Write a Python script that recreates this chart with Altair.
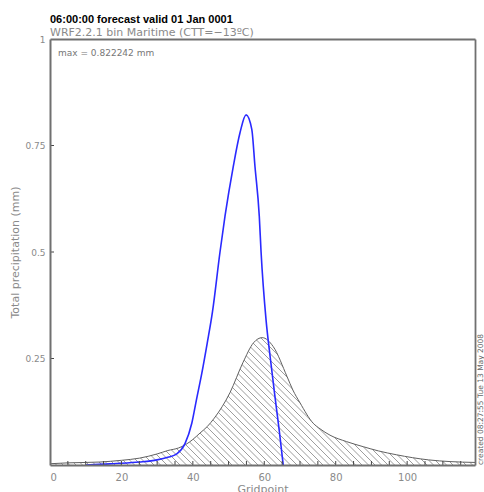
import altair as alt
import pandas as pd
import numpy as np

# ---------------- text ----------------
title_text = "06:00:00 forecast valid 01 Jan 0001"
subtitle_text = "WRF2.2.1 bin Maritime (CTT=\u221213\u00baC)"
max_text = "max = 0.822242 mm"
created_text = "created 08:27:55 Tue 13 May 2008"
x_title = "Gridpoint"
y_title = "Total precipitation (mm)"

# ---------------- data ----------------
# blue line: WRF2.2.1 bin scheme
bin_x = [10, 15, 20, 25, 30, 33, 35.5, 37.8, 39.7, 41, 42.5, 44, 45.5, 47.6, 49, 51.3, 53.2,
         54.9, 56.5, 57.4, 58.6, 59.1, 60.5, 61.7, 63, 64.2, 65.3]
bin_y = [0.0, 0.002, 0.004, 0.007, 0.012, 0.018, 0.026, 0.05, 0.098, 0.153, 0.215, 0.285, 0.36,
         0.5, 0.584, 0.70, 0.78, 0.822, 0.788, 0.70, 0.584, 0.5, 0.34, 0.25, 0.16, 0.08, 0.0]

# grey hatched curve
ref_x = [0, 5, 10, 14, 20, 25, 30, 33, 36, 38, 40, 42, 44, 46, 50.4, 54, 57, 59.4, 62.5, 66.4,
         68, 70, 73.7, 75.6, 78.4, 83, 87.7, 92, 97, 106, 112, 119]
ref_y = [0.003, 0.005, 0.006, 0.007, 0.011, 0.016, 0.026, 0.034, 0.04, 0.048, 0.06, 0.075, 0.09,
         0.11, 0.17, 0.24, 0.287, 0.299, 0.278, 0.207, 0.176, 0.146, 0.098, 0.085, 0.07, 0.055,
         0.043, 0.033, 0.024, 0.012, 0.008, 0.006]

x_tick_labels = [0, 20, 40, 60, 80, 100]
x_minor_ticks = list(range(5, 120, 5))
y_tick_labels = [0.25, 0.5, 0.75, 1]

X_DOMAIN = [0, 119]
Y_DOMAIN = [0, 1]
W, H = 425, 426

FONT = "DejaVu Sans"
GREY_TXT = "#8a8a8a"
FRAME = "#707070"

xs = alt.Scale(domain=X_DOMAIN, nice=False, zero=False)
ys = alt.Scale(domain=Y_DOMAIN, nice=False, zero=False)

bin_df = pd.DataFrame({"x": bin_x, "y": bin_y})
ref_df = pd.DataFrame({"x": ref_x, "y": ref_y})
mask_df = ref_df.assign(top=Y_DOMAIN[1])

# hatch lines (decoration): 45 degree lines in pixel space
px_per_x = W / (X_DOMAIN[1] - X_DOMAIN[0])
px_per_y = H / (Y_DOMAIN[1] - Y_DOMAIN[0])
hatch_len_px = 150
spacing_px = 6.5
starts = np.arange(X_DOMAIN[0], X_DOMAIN[1] + hatch_len_px / px_per_x, spacing_px / px_per_x)
hatch_df = pd.DataFrame({
    "hx": starts,
    "hx2": starts - hatch_len_px / px_per_x,
    "hy": 0.0,
    "hy2": hatch_len_px / px_per_y,
})

axis_common = dict(zindex=1, grid=False, domainColor=FRAME, domainWidth=2)

x_bottom = alt.Axis(orient="bottom", values=x_tick_labels, ticks=False, labelFont=FONT,
                    labelFontSize=10, labelColor=GREY_TXT, labelPadding=7, title=x_title,
                    titleFont=FONT, titleFontSize=11, titleFontWeight="normal",
                    titleColor=GREY_TXT, titlePadding=1, **axis_common)
y_left = alt.Axis(orient="left", values=y_tick_labels, labelExpr="datum.value + ''", ticks=False,
                  labelFont=FONT, labelFontSize=9, labelColor=GREY_TXT, labelPadding=5,
                  title=y_title, titleFont=FONT, titleFontSize=11, titleFontWeight="normal",
                  titleColor=GREY_TXT, titlePadding=4, **axis_common)
x_top = alt.Axis(orient="top", labels=False, ticks=False, title=None, **axis_common)
y_right = alt.Axis(orient="right", labels=False, ticks=False, title=None, domainWidth=1.8,
                   zindex=1, grid=False, domainColor=FRAME)

hatch = alt.Chart(hatch_df).mark_rule(color="#9d9d9d", strokeWidth=1, clip=True).encode(
    x=alt.X("hx:Q", scale=xs, axis=None),
    x2="hx2:Q",
    y=alt.Y("hy:Q", scale=ys, axis=None),
    y2="hy2:Q",
)

mask = alt.Chart(mask_df).mark_area(color="white", fill="white", opacity=1,
                                    interpolate="monotone", clip=True).encode(
    x=alt.X("x:Q", scale=xs, axis=x_top),
    y=alt.Y("y:Q", scale=ys, axis=y_right, stack=None),
    y2="top:Q",
)

ref_line = alt.Chart(ref_df).mark_line(color="#606060", strokeWidth=1, interpolate="monotone", clip=True).encode(
    x=alt.X("x:Q", scale=xs, axis=x_bottom),
    y=alt.Y("y:Q", scale=ys, axis=y_left),
)

bin_line = alt.Chart(bin_df).mark_line(color="#2a2aff", strokeWidth=1.6, interpolate="monotone", clip=True).encode(
    x=alt.X("x:Q", scale=xs, axis=None),
    y=alt.Y("y:Q", scale=ys, axis=None),
)

xticks = alt.Chart(pd.DataFrame({"t": x_minor_ticks})).mark_rule(color="#444444", strokeWidth=1).encode(
    x=alt.X("t:Q", scale=xs, axis=None),
    y=alt.value(H),
    y2=alt.value(H - 4),
)

yticks = alt.Chart(pd.DataFrame({"t": y_tick_labels[:-1]})).mark_rule(color="#444444", strokeWidth=1).encode(
    y=alt.Y("t:Q", scale=ys, axis=None),
    x=alt.value(0),
    x2=alt.value(4),
)

def label(txt, x, y, **kw):
    return alt.Chart(pd.DataFrame({"t": [txt]})).mark_text(**kw).encode(
        x=alt.value(x), y=alt.value(y), text="t:N"
    )

title_mark = label(title_text, 0, -16, align="left", baseline="alphabetic", font="Liberation Sans",
                   fontSize=11, fontWeight="bold", color="black")
subtitle_mark = label(subtitle_text, 0, -3, align="left", baseline="alphabetic", font=FONT,
                      fontSize=11, color=GREY_TXT)
max_mark = label(max_text, 8, 17, align="left", baseline="alphabetic", font=FONT,
                 fontSize=9, color="#777777")
created_mark = label(created_text, 431, H, align="left", baseline="middle", font=FONT,
                     fontSize=7.5, color="#666666", angle=270)

chart = alt.layer(
    hatch, mask, ref_line, bin_line, xticks, yticks,
    title_mark, subtitle_mark, max_mark, created_mark,
).resolve_axis(x="independent", y="independent").properties(
    width=W, height=H,
    autosize=alt.AutoSizeParams(type="none"),
    padding={"left": 50, "top": 39, "right": 9, "bottom": 27},
).configure_view(stroke=None)

chart.save("out.html", embed_options={"renderer": "svg", "actions": False})
